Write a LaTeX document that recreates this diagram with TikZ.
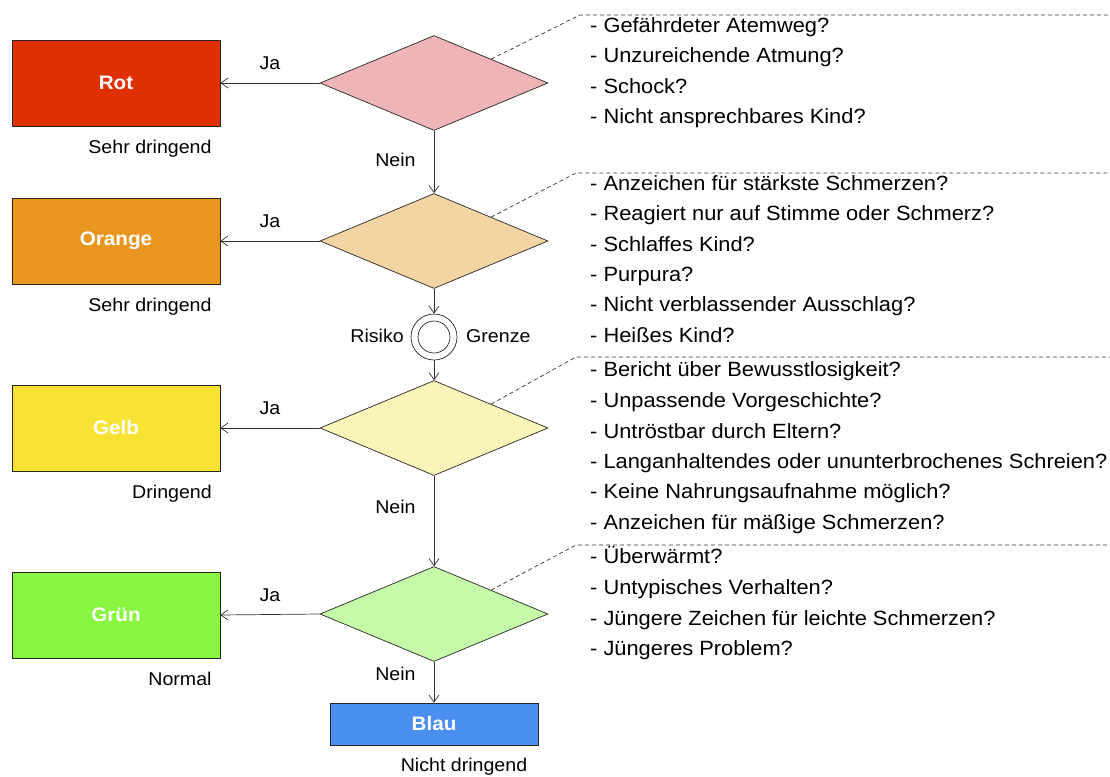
\documentclass[tikz,border=0pt]{standalone}
\usepackage{fontspec}
\setmainfont{Liberation Sans}[FakeStretch=1.06]
\usetikzlibrary{shapes.geometric,arrows.meta,calc}
\definecolor{rotc}{RGB}{222,48,0}
\definecolor{orangec}{RGB}{232,150,32}
\definecolor{gelbc}{RGB}{248,226,52}
\definecolor{gruenc}{RGB}{136,246,64}
\definecolor{blauc}{RGB}{74,142,240}
\definecolor{rotl}{RGB}{238,180,182}
\definecolor{orangel}{RGB}{245,212,164}
\definecolor{gelbl}{RGB}{251,244,184}
\definecolor{gruenl}{RGB}{196,250,168}
\tikzset{
  catbox/.style={draw=black!85, line width=0.7pt, minimum width=208pt, minimum height=86pt, inner sep=0pt, text=white, font=\fontsize{19.5}{22}\selectfont\bfseries},
  decision/.style={diamond, draw=black!85, line width=0.7pt, minimum width=228pt, minimum height=95pt, inner sep=0pt},
  lbl/.style={font=\fontsize{18.5}{22}\selectfont, inner sep=0pt, text height=1.05em, text depth=0em},
  item/.style={font=\fontsize{20.6}{24}\selectfont, inner sep=0pt, anchor=west, text height=1.05em, text depth=0em},
  flow/.style={draw=black!80, line width=0.7pt, -{Straight Barb[length=7pt,width=10pt]}},
  dashline/.style={draw=black!80, line width=0.7pt, dash pattern=on 4pt off 3pt},
}
\begin{document}
\begin{tikzpicture}[x=1pt,y=-1pt]
\useasboundingbox (0,0) rectangle (1110,776);
% boxes
\node[catbox, fill=rotc] (rot) at (116,83) {Rot};
\node[catbox, fill=orangec] (orange) at (116,241) {Orange};
\node[catbox, fill=gelbc] (gelb) at (116,428) {Gelb};
\node[catbox, fill=gruenc] (gruen) at (116,615) {Grün};
\node[catbox, fill=blauc, minimum height=42pt] (blau) at (434,724) {Blau};
% diamonds
\node[decision, fill=rotl] (d1) at (434,83) {};
\node[decision, fill=orangel] (d2) at (434,241) {};
\node[decision, fill=gelbl] (d3) at (434,428) {};
\node[decision, fill=gruenl] (d4) at (434,614) {};
% risk circle
\node[circle, draw=black!85, line width=0.7pt, minimum size=46pt, inner sep=0pt] (rg) at (434,337) {};
\node[circle, draw=black!85, line width=0.7pt, minimum size=32pt, inner sep=0pt] (rgi) at (434,337) {};
\node[lbl, anchor=east] (risiko) at (404,337) {Risiko};
\node[lbl, anchor=west] (grenze) at (466,337) {Grenze};
% subtitles
\node[lbl] (s1) at (150,148) {Sehr dringend};
\node[lbl] (s2) at (150,306) {Sehr dringend};
\node[lbl] (s3) at (172,493) {Dringend};
\node[lbl] (s4) at (180,680) {Normal};
\node[lbl] (s5) at (464,766) {Nicht dringend};
% flow arrows
\draw[flow] (d1.west) -- node[lbl, above=13pt, pos=0.5] {Ja} (rot.east);
\draw[flow] (d2.west) -- node[lbl, above=13pt, pos=0.5] {Ja} (orange.east);
\draw[flow] (d3.west) -- node[lbl, above=13pt, pos=0.5] {Ja} (gelb.east);
\draw[flow] (d4.west) -- node[lbl, above=13pt, pos=0.5] {Ja} (gruen.east);
\draw[flow] (d1.south) -- node[lbl, left=18pt, pos=0.48] {Nein} (d2.north);
\draw[flow] (d2.south) -- (rg.north);
\draw[flow] (rg.south) -- (d3.north);
\draw[flow] (d3.south) -- node[lbl, left=18pt, pos=0.36] {Nein} (d4.north);
\draw[flow] (d4.south) -- node[lbl, left=18pt, pos=0.33] {Nein} (blau.north);
% callouts
\coordinate (c1) at (580,15);  \coordinate (e1) at (1110,15);
\coordinate (c2) at (576,173); \coordinate (e2) at (1110,173);
\coordinate (c3) at (576,357); \coordinate (e3) at (1110,357);
\coordinate (c4) at (576,545); \coordinate (e4) at (1110,545);
\draw[dashline] ($(d1.north)!0.5!(d1.east)$) -- (c1) -- (e1);
\draw[dashline] ($(d2.north)!0.5!(d2.east)$) -- (c2) -- (e2);
\draw[dashline] ($(d3.north)!0.5!(d3.east)$) -- (c3) -- (e3);
\draw[dashline] ($(d4.north)!0.5!(d4.east)$) -- (c4) -- (e4);
% lists
\node[item] (a1) at (590,27) {- Gefährdeter Atemweg?};
\node[item] (a2) at (590,57) {- Unzureichende Atmung?};
\node[item] (a3) at (590,88) {- Schock?};
\node[item] (a4) at (590,118) {- Nicht ansprechbares Kind?};
\node[item] (b1) at (590,185) {- Anzeichen für stärkste Schmerzen?};
\node[item] (b2) at (590,215) {- Reagiert nur auf Stimme oder Schmerz?};
\node[item] (b3) at (590,246) {- Schlaffes Kind?};
\node[item] (b4) at (590,276) {- Purpura?};
\node[item] (b5) at (590,306) {- Nicht verblassender Ausschlag?};
\node[item] (b6) at (590,337) {- Heißes Kind?};
\node[item] (g1) at (590,371) {- Bericht über Bewusstlosigkeit?};
\node[item] (g2) at (590,402) {- Unpassende Vorgeschichte?};
\node[item] (g3) at (590,433) {- Untröstbar durch Eltern?};
\node[item] (g4) at (590,463) {- Langanhaltendes oder ununterbrochenes Schreien?};
\node[item] (g5) at (590,493) {- Keine Nahrungsaufnahme möglich?};
\node[item] (g6) at (590,524) {- Anzeichen für mäßige Schmerzen?};
\node[item] (n1) at (590,558) {- Überwärmt?};
\node[item] (n2) at (590,589) {- Untypisches Verhalten?};
\node[item] (n3) at (590,620) {- Jüngere Zeichen für leichte Schmerzen?};
\node[item] (n4) at (590,650) {- Jüngeres Problem?};
\end{tikzpicture}
\end{document}
